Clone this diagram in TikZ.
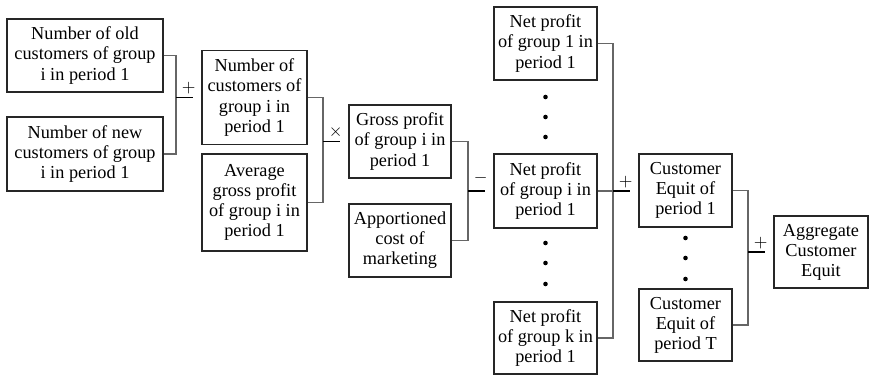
\documentclass[tikz,border=0pt]{standalone}
\usepackage{fontspec}
\setmainfont{Liberation Serif}
\usetikzlibrary{calc}
\tikzset{
  box/.style  = {draw=black!85, line width=0.6pt, align=center, inner sep=0pt,
                 font=\fontsize{10.4pt}{11.4pt}\selectfont},
  wire/.style = {line width=0.6pt, black!60},
  stub/.style = {line width=0.9pt, black, shorten >=0.16cm},
  op/.style   = {above, inner sep=1.5pt, font=\fontsize{10.4pt}{11.4pt}\selectfont},
}

\begin{document}
\begin{tikzpicture}[x=0.02cm,y=-0.02cm]
  \useasboundingbox (0,0) rectangle (870,375);

  % column A
  \node[box,minimum width=3.12cm,minimum height=1.46cm] (old) at (85,55.5)
    {Number of old\\customers of group\\i in period 1};
  \node[box,minimum width=3.12cm,minimum height=1.48cm] (new) at (85,154)
    {Number of new\\customers of group\\i in period 1};
  % column B
  \node[box,minimum width=2.10cm,minimum height=1.88cm] (num) at (254.5,97.5)
    {Number of\\customers of\\group i in\\period 1};
  \node[box,minimum width=2.10cm,minimum height=1.94cm] (avg) at (254.5,202.5)
    {Average\\gross profit\\of group i in\\period 1};
  % column C
  \node[box,minimum width=2.04cm,minimum height=1.46cm] (gross) at (400,141.5)
    {Gross profit\\of group i in\\period 1};
  \node[box,minimum width=2.04cm,minimum height=1.46cm] (cost) at (400,240.5)
    {Apportioned\\cost of\\marketing};
  % column D
  \node[box,minimum width=2.06cm,minimum height=1.46cm] (net1) at (545.5,43.5)
    {Net profit\\of group 1 in\\period 1};
  \node[box,minimum width=2.06cm,minimum height=1.48cm] (neti) at (545.5,191)
    {Net profit\\of group i in\\period 1};
  \node[box,minimum width=2.06cm,minimum height=1.44cm] (netk) at (545.5,338)
    {Net profit\\of group k in\\period 1};
  % column E
  \node[box,minimum width=1.86cm,minimum height=1.46cm] (ce1) at (685.5,190.5)
    {Customer\\Equit of\\period 1};
  \node[box,minimum width=1.86cm,minimum height=1.44cm] (ceT) at (685.5,325)
    {Customer\\Equit of\\period T};
  % result
  \node[box,minimum width=1.88cm,minimum height=1.44cm] (agg) at (821,252)
    {Aggregate\\Customer\\Equit};

  % joints of the brackets
  \coordinate (j1) at (176,97.5);
  \coordinate (j2) at (323,141.5);
  \coordinate (j3) at (468,191);
  \coordinate (j4) at (613,191);
  \coordinate (j5) at (748,252);

  \draw[wire] (old.east) -| (j1) |- (new.east);
  \draw[wire] (num.east) -| (j2) |- (avg.east);
  \draw[wire] (gross.east) -| (j3) |- (cost.east);
  \draw[wire] (net1.east) -| (j4) |- (netk.east);
  \draw[wire] (neti.east) -- (j4);
  \draw[wire] (ce1.east) -| (j5) |- (ceT.east);

  \draw[stub] (j1) -- node[op]{$+$} (j1 -| num.west);
  \draw[stub] (j2) -- node[op]{$\times$} (j2 -| gross.west);
  \draw[stub] (j3) -- node[op,yshift=2pt]{$-$} (j3 -| neti.west);
  \draw[stub] (j4) -- node[op]{$+$} (j4 -| ce1.west);
  \draw[stub] (j5) -- node[op]{$+$} (j5 -| agg.west);

  % dots
  \foreach \y in {97,117,137,243,263,284}
    \fill (545.5,\y) circle (1.3pt);
  \foreach \y in {238,258,279}
    \fill (685.5,\y) circle (1.3pt);
\end{tikzpicture}
\end{document}
